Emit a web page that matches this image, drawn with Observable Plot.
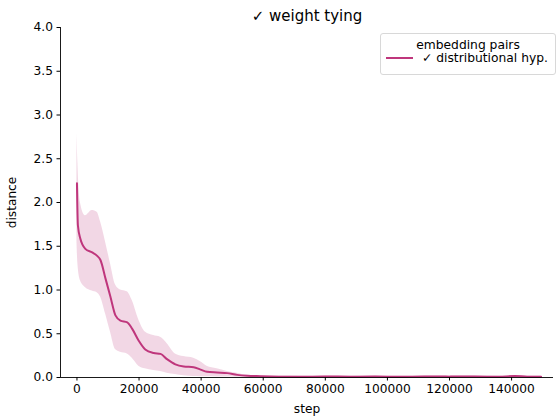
<!DOCTYPE html>
<html>
<head>
<meta charset="utf-8">
<script src="https://cdn.jsdelivr.net/npm/d3@7"></script>
<script src="https://cdn.jsdelivr.net/npm/@observablehq/plot@0.6"></script>
<style>
  html, body { margin: 0; padding: 0; background: #fff; }
  #wrap { position: relative; width: 558px; height: 416px; font-family: "DejaVu Sans", sans-serif; }
  #legend { position: absolute; left: 380px; top: 33px; width: 174px; height: 40px; border: 1px solid #d8d8d8; border-radius: 3px; background: rgba(255,255,255,0.8); font-size: 12.3px; line-height: 12px; color: #000; }
  #legend .t { position: absolute; left: 0; width: 100%; top: 5px; text-align: center; }
  #legend .sw { position: absolute; left: 5px; top: 23px; width: 27px; height: 0; border-top: 2px solid #bf367c; }
  #legend .l { position: absolute; left: 41px; top: 18px; white-space: nowrap; }
</style>
</head>
<body>
<div id="wrap"></div>
<script>
const title = "✓ weight tying";
const seriesName = "✓ distributional hyp.";
const legendTitle = "embedding pairs";
const xLabel = "step";
const yLabel = "distance";
const xTicks = [0, 20000, 40000, 60000, 80000, 100000, 120000, 140000];
const yTicks = [0, 0.5, 1, 1.5, 2, 2.5, 3, 3.5, 4];

const steps = [0, 300, 1100, 2700, 4900, 6500, 7600, 9200, 10800, 12400, 14000, 16200, 17800, 19900, 22000, 24700, 26900, 29000, 31700, 34400, 37600, 39800, 41900, 45100, 48400, 51600, 54800, 59100, 65000, 72000, 80000, 88000, 96000, 104000, 112000, 120000, 128000, 136000, 141000, 145000, 149500];
const meanVals = [2.22, 1.74, 1.585, 1.47, 1.43, 1.39, 1.34, 1.13, 0.92, 0.71, 0.65, 0.63, 0.556, 0.42, 0.32, 0.28, 0.27, 0.21, 0.15, 0.126, 0.118, 0.09, 0.065, 0.057, 0.05, 0.03, 0.02, 0.015, 0.01, 0.008, 0.012, 0.009, 0.011, 0.008, 0.012, 0.010, 0.011, 0.009, 0.016, 0.010, 0.010];
const upperVals = [2.79, 2.45, 2.0, 1.85, 1.91, 1.89, 1.78, 1.55, 1.30, 1.06, 1.00, 0.98, 0.88, 0.66, 0.52, 0.48, 0.46, 0.39, 0.27, 0.24, 0.22, 0.18, 0.13, 0.10, 0.07, 0.05, 0.025, 0.018, 0.016, 0.014, 0.018, 0.015, 0.017, 0.014, 0.018, 0.016, 0.017, 0.015, 0.022, 0.016, 0.016];
const lowerVals = [1.55, 1.3, 1.11, 1.03, 0.99, 0.97, 0.92, 0.73, 0.52, 0.32, 0.29, 0.27, 0.22, 0.13, 0.10, 0.08, 0.07, 0.05, 0.034, 0.02, 0.012, 0.01, 0.008, 0.006, 0.005, 0.004, 0.003, 0.003, 0.004, 0.002, 0.006, 0.003, 0.005, 0.002, 0.006, 0.004, 0.005, 0.003, 0.010, 0.004, 0.004];

const color = "#bf367c";
const rows = steps.map((s, i) => ({step: s, mean: meanVals[i], lo: lowerVals[i], hi: upperVals[i]}));
const xDomain = [-5300, 153500];

const chart = Plot.plot({
  width: 558,
  height: 416,
  marginLeft: 60,
  marginRight: 5,
  marginTop: 27,
  marginBottom: 39,
  style: {fontFamily: "DejaVu Sans, sans-serif", fontSize: "12px", color: "#000", background: "#fff"},
  x: {domain: xDomain},
  y: {domain: [0, 4]},
  marks: [
    Plot.areaY(rows, {x: "step", y1: "lo", y2: "hi", fill: color, fillOpacity: 0.2, curve: "monotone-x"}),
    Plot.lineY(rows, {x: "step", y: "mean", stroke: color, strokeWidth: 2, curve: "monotone-x"}),
    Plot.ruleX([xDomain[0]], {stroke: "#000", strokeWidth: 0.9}),
    Plot.ruleY([0], {stroke: "#000", strokeWidth: 0.9}),
    Plot.axisX({ticks: xTicks, tickSize: 3.5, tickPadding: 3, tickFormat: d3.format("d"), label: xLabel, labelAnchor: "center", labelOffset: 35, labelArrow: false, fontSize: 12.2, fill: "#000"}),
    Plot.axisY({ticks: yTicks, tickSize: 3.5, tickPadding: 4, tickFormat: d3.format(".1f"), label: yLabel, labelAnchor: "center", labelOffset: 53, labelArrow: false, fontSize: 12.2, fill: "#000"}),
    Plot.text([title], {frameAnchor: "top", dy: -17, fontSize: 15, fill: "#000"})
  ]
});

const wrap = document.getElementById("wrap");
wrap.appendChild(chart);
const lg = document.createElement("div");
lg.id = "legend";
lg.innerHTML = `<div class="t"></div><div class="sw"></div><div class="l"></div>`;
lg.querySelector(".t").textContent = legendTitle;
lg.querySelector(".l").textContent = seriesName;
wrap.appendChild(lg);
</script>
</body>
</html>
